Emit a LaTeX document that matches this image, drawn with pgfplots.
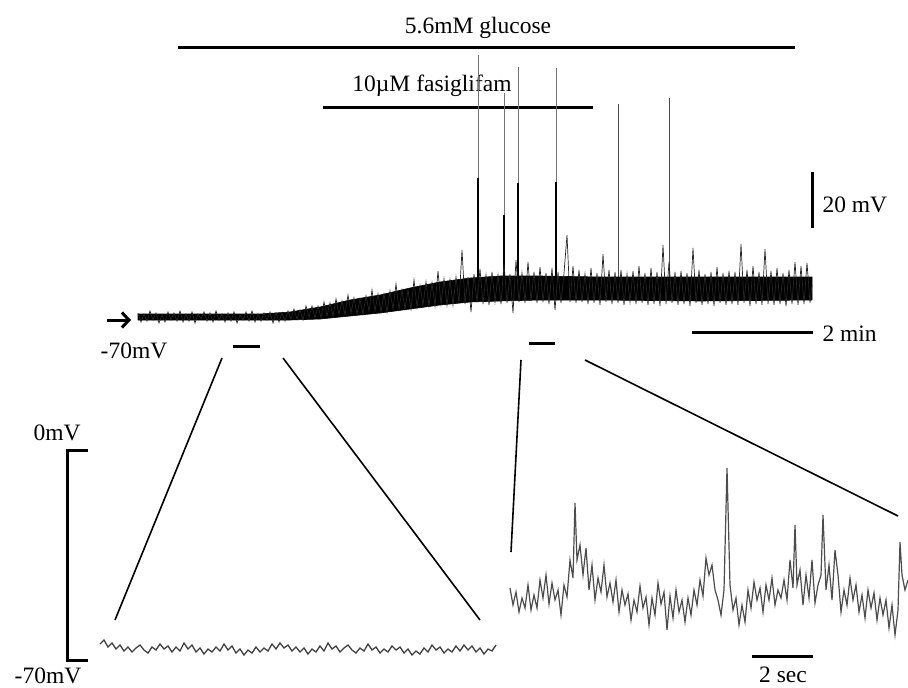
\documentclass[border=0pt]{standalone}
\usepackage{pgfplots}
\pgfplotsset{compat=1.18}
\usepackage{fontspec}
\setmainfont{Liberation Serif}
\usetikzlibrary{arrows.meta}
\tikzset{lbl/.style={font=\fontsize{23.5}{26}\selectfont}}

\begin{document}
\begin{tikzpicture}
\begin{axis}[
  hide axis, scale only axis, clip=false,
  width=908pt, height=688pt,
  xmin=0, xmax=908, ymin=0, ymax=688, y dir=reverse,
  every axis plot/.append style={mark=none},
]
% treatment bars
\addplot[black, line width=3pt] coordinates {(178,47) (795,47)};
\addplot[black, line width=3pt] coordinates {(323,107) (593,107)};
\node[lbl] at (axis cs:478,28) {5.6mM glucose};
\node[lbl] at (axis cs:432,86) {10µM fasiglifam};

% tall spikes (thin grey tops, darker bases)
\addplot[black!55, line width=0.7pt] coordinates {(478,290) (478,55)};
\addplot[black!55, line width=0.7pt] coordinates {(504,290) (504,93)};
\addplot[black!55, line width=0.7pt] coordinates {(518,290) (518,67)};
\addplot[black!55, line width=0.7pt] coordinates {(556,290) (556,68)};
\addplot[black!70, line width=0.8pt] coordinates {(618,290) (618,104)};
\addplot[black!70, line width=0.8pt] coordinates {(669,290) (669,98)};
\addplot[black, line width=1.2pt] coordinates {(478,290) (478,178)};
\addplot[black, line width=1.2pt] coordinates {(504,290) (504,215)};
\addplot[black, line width=1.2pt] coordinates {(518,290) (518,183)};
\addplot[black, line width=1.2pt] coordinates {(556,290) (556,182)};

% main trace: dense core of the recording
\addplot[fill=black, draw=black, line width=0.6pt] coordinates {
(138,314) (180,314) (220,314) (260,314) (290,312) (320,307) (350,300) (380,295)
(410,288) (440,282) (470,278) (500,276) (540,276) (600,277) (700,277) (812,277)
(812,300) (700,301) (600,300) (540,300) (500,301) (470,302) (440,305) (410,309)
(380,313) (350,316) (320,319) (290,320) (260,320) (220,320) (180,320) (138,320)
} -- cycle;

% main trace: fluctuations
\addplot[black!85, line width=0.7pt] coordinates {
(138,313) (141,322) (144,314) (147,321) (150,311) (153,320) (156,313) (159,323)
(162,315) (165,322) (168,312) (171,320) (174,313) (177,321) (180,311) (183,322)
(186,314) (189,321) (192,312) (195,323) (198,314) (201,319) (204,312) (207,321)
(210,313) (213,322) (216,311) (219,320) (222,314) (225,322) (228,313) (231,321)
(234,312) (237,323) (240,315) (243,320) (246,312) (249,321) (252,311) (255,322)
(258,314) (261,321) (264,313) (267,320) (270,312) (273,323) (276,313) (279,322)
(282,313) (285,321) (288,311) (291,319) (294,309) (297,319) (300,310) (303,320)
(306,306) (309,317) (312,306) (315,318) (318,306) (321,318) (324,302) (327,316)
(330,303) (333,316) (336,299) (339,314) (342,301) (345,315) (348,295) (351,313)
(354,298) (357,314) (360,299) (363,314) (366,296) (369,311) (372,290) (375,311)
(378,294) (381,312) (384,294) (387,312) (390,291) (393,309) (396,284) (399,309)
(402,290) (405,309) (408,290) (411,309) (414,280) (417,307) (420,286) (423,305)
(426,282) (429,306) (432,283) (435,306) (438,271) (441,304) (444,279) (447,305)
(450,280) (453,305) (456,277) (459,303) (462,250) (465,304) (468,277) (471,312)
(474,274) (477,302) (480,269) (483,304) (486,275) (489,305) (492,272) (495,302)
(498,275) (501,304) (504,264) (507,303) (510,274) (513,313) (516,260) (519,302)
(522,273) (525,303) (528,262) (531,301) (534,272) (537,303) (540,267) (543,302)
(546,273) (549,304) (552,268) (555,310) (558,272) (561,303) (564,273) (567,235)
(570,302) (573,266) (576,303) (579,270) (582,302) (585,274) (588,304) (591,268)
(594,303) (597,273) (600,305) (603,254) (606,302) (609,270) (612,304) (615,272)
(618,303) (621,270) (624,305) (627,274) (630,302) (633,271) (636,304) (639,266)
(642,303) (645,273) (648,305) (651,268) (654,304) (657,272) (660,306) (663,245)
(666,304) (669,262) (672,303) (675,272) (678,305) (681,271) (684,304) (687,273)
(690,306) (693,248) (696,303) (699,270) (702,305) (705,274) (708,304) (711,272)
(714,306) (717,267) (720,303) (723,273) (726,305) (729,271) (732,304) (735,272)
(738,305) (741,244) (744,303) (747,270) (750,306) (753,266) (756,304) (759,272)
(762,305) (765,249) (768,304) (771,271) (774,305) (777,268) (780,304) (783,273)
(786,306) (789,270) (792,304) (795,262) (798,305) (801,266) (804,304) (807,263)
(810,303) (812,285)
};

% arrow and baseline label
\addplot[black, line width=3pt, -{Straight Barb[length=7pt,width=15pt]}] coordinates {(107,320) (131,320)};
\node[lbl] at (axis cs:134,351) {-70mV};

% scale bars
\addplot[black, line width=3pt] coordinates {(812,172) (812,228)};
\node[lbl, anchor=west] at (axis cs:819,205) {20 mV};
\addplot[black, line width=3pt] coordinates {(692,332) (813,332)};
\node[lbl, anchor=west] at (axis cs:819,334) {2 min};

% segment markers
\addplot[black, line width=3pt] coordinates {(233,346) (260,346)};
\addplot[black, line width=3pt] coordinates {(529,343) (555,343)};

% zoom lines
\addplot[black, line width=1.6pt] coordinates {(222,358) (115,620)};
\addplot[black, line width=1.6pt] coordinates {(283,358) (480,620)};
\addplot[black, line width=1.6pt] coordinates {(521,360) (511,552)};
\addplot[black, line width=1.6pt] coordinates {(585,360) (898,516)};

% voltage bracket
\addplot[black, line width=3pt] coordinates {(88,450) (67,450) (67,660) (88,660)};
\node[lbl] at (axis cs:57,433) {0mV};
\node[lbl] at (axis cs:48,676) {-70mV};

% expanded trace, baseline
\addplot[black!75, line width=1.3pt] coordinates {
(100,644) (104,640) (108,647) (112,643) (116,649) (120,645) (124,651) (128,647)
(132,652) (136,648) (140,645) (144,650) (148,653) (152,647) (156,650) (160,644)
(164,649) (168,646) (172,652) (176,647) (180,651) (184,643) (188,649) (192,645)
(196,652) (200,648) (204,654) (208,649) (212,652) (216,647) (220,651) (224,644)
(228,650) (232,646) (236,653) (240,649) (244,655) (248,650) (252,653) (256,647)
(260,652) (264,648) (268,651) (272,644) (276,649) (280,643) (284,648) (288,645)
(292,651) (296,647) (300,652) (304,648) (308,654) (312,649) (316,652) (320,646)
(324,651) (328,643) (332,649) (336,646) (340,652) (344,648) (348,645) (352,650)
(356,653) (360,648) (364,651) (368,644) (372,650) (376,647) (380,653) (384,649)
(388,652) (392,646) (396,650) (400,647) (404,653) (408,649) (412,655) (416,651)
(420,654) (424,648) (428,652) (432,645) (436,650) (440,647) (444,653) (448,649)
(452,652) (456,646) (460,651) (464,645) (468,650) (472,646) (476,652) (480,648)
(484,654) (488,649) (492,651) (496,645)
};

% expanded trace, with fasiglifam
\addplot[black!70, line width=1.2pt] coordinates {
(510,588) (513,605) (516,592) (519,612) (522,598) (525,608) (528,585) (531,610)
(534,595) (537,608) (540,580) (543,598) (546,575) (549,604) (552,583) (555,600)
(558,590) (561,615) (564,585) (567,597) (570,560) (573,578) (575,503) (577,560)
(580,545) (583,575) (586,548) (589,590) (592,565) (595,600) (598,578) (601,592)
(604,565) (607,597) (610,583) (613,602) (616,580) (619,612) (622,590) (625,605)
(628,594) (631,620) (634,600) (637,612) (640,586) (643,608) (646,597) (649,625)
(652,598) (655,615) (658,583) (661,604) (664,592) (667,630) (670,596) (673,618)
(676,590) (679,612) (682,600) (685,622) (688,598) (691,615) (694,590) (697,605)
(700,580) (703,596) (706,558) (709,575) (712,565) (715,590) (718,600) (721,615)
(724,590) (727,468) (730,585) (733,610) (736,598) (739,625) (742,605) (745,622)
(748,590) (751,608) (754,582) (757,600) (760,588) (763,612) (766,585) (769,600)
(772,578) (775,605) (778,590) (781,598) (784,580) (787,600) (790,560) (793,588)
(795,525) (797,585) (800,570) (803,605) (806,575) (809,598) (812,560) (815,603)
(818,585) (821,575) (823,515) (826,590) (829,565) (832,600) (835,550) (838,575)
(841,612) (844,590) (847,605) (850,578) (853,600) (856,585) (859,612) (862,595)
(865,618) (868,590) (871,608) (874,593) (877,620) (880,598) (883,615) (886,600)
(889,628) (892,605) (895,635) (898,610) (900,542) (902,575) (905,590) (908,580)
};

\addplot[black, line width=3pt] coordinates {(752,656) (813,656)};
\node[lbl] at (axis cs:783,675) {2 sec};
\end{axis}
\pgfresetboundingbox
\path (current axis.south west) rectangle (current axis.north east);
\end{tikzpicture}
\end{document}
